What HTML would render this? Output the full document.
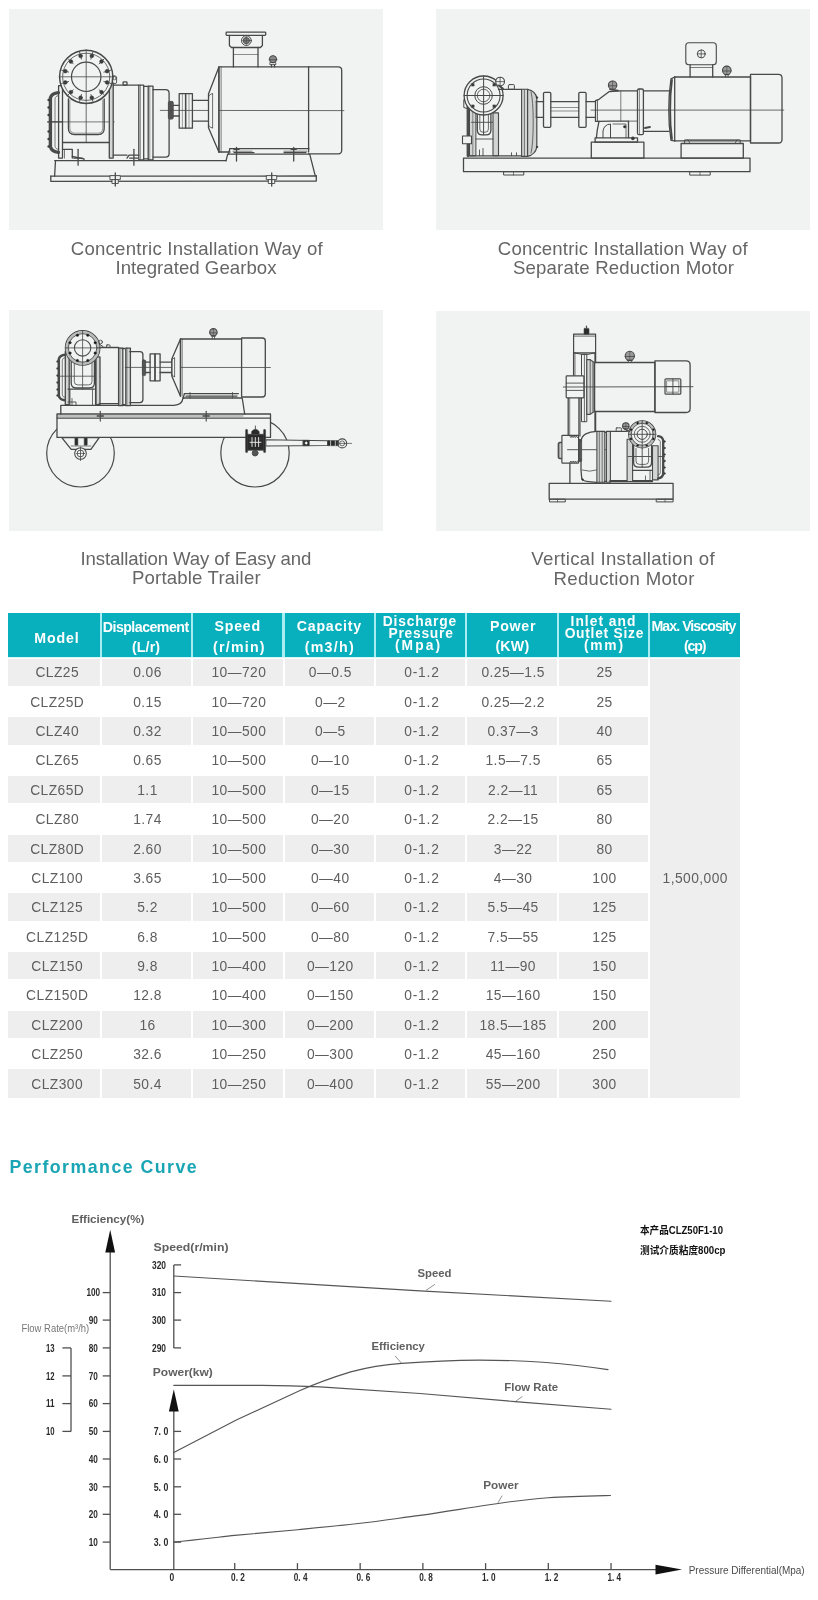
<!DOCTYPE html>
<html lang="en"><head><meta charset="utf-8"><title>Rotary Lobe Pump - Installation &amp; Performance</title>
<style>
html,body{margin:0;padding:0;background:#fff;}
body{width:818px;height:1600px;position:relative;overflow:hidden;font-family:"Liberation Sans","Noto Sans CJK SC",sans-serif;}
.t{position:absolute;white-space:nowrap;line-height:1;margin:0;padding:0;}
.panel{position:absolute;background:#f1f2f2;overflow:hidden;}
.panel svg{position:absolute;left:0;top:0;}
.cell{position:absolute;}
svg text{font-family:"Liberation Sans","Noto Sans CJK SC",sans-serif;}
#pg{position:absolute;left:0;top:0;width:818px;height:1600px;will-change:transform;}
</style></head><body><div id="pg">
<div class="panel" style="left:9px;top:9px;width:374px;height:221px;"><svg width="374" height="221" viewBox="9 9 374 221" fill="none" stroke="#484848" stroke-width="1.3" stroke-linecap="round" stroke-linejoin="round">
<polyline points="54.7,160.6 226.0,160.6"/>
<polyline points="55.5,160.6 54.6,176.2"/>
<polyline points="50.8,176.2 316.3,176.0"/>
<polyline points="50.8,176.2 50.8,181.3 316.3,181.0 316.3,175.6"/>
<polyline points="226.0,160.8 227.7,154.2 309.7,154.2 315.2,175.6"/>
<rect x="110.3" y="175.6" width="10.0" height="4.0" rx="0" fill="#f1f2f2" stroke-width="0.9"/>
<rect x="112.3" y="179.6" width="6.0" height="3.9" rx="0" fill="#f1f2f2" stroke-width="0.9"/>
<polyline points="115.3,173.0 115.3,186.0"/>
<rect x="266.7" y="175.6" width="10.0" height="4.0" rx="0" fill="#f1f2f2" stroke-width="0.9"/>
<rect x="268.7" y="179.6" width="6.0" height="3.9" rx="0" fill="#f1f2f2" stroke-width="0.9"/>
<polyline points="271.7,173.0 271.7,186.0"/>
<path d="M58.4 92.6 C53.5 93 51.2 94.6 50.4 98 L50.4 146.6 C51.2 150 53.5 151.8 58.4 152.4" stroke="#4a4a4a" stroke-width="3.4"/>
<path d="M58.4 95.6 C56 96 55.2 97 55 99 L55 146 C55.2 148 56 149 58.4 149.4" stroke-width="0.7"/>
<circle cx="48.6" cy="100.0" r="1.2" fill="#3c3c3c" stroke="none"/>
<circle cx="48.6" cy="107.5" r="1.2" fill="#3c3c3c" stroke="none"/>
<circle cx="48.6" cy="115.0" r="1.2" fill="#3c3c3c" stroke="none"/>
<circle cx="48.6" cy="131.5" r="1.2" fill="#3c3c3c" stroke="none"/>
<circle cx="48.6" cy="139.0" r="1.2" fill="#3c3c3c" stroke="none"/>
<circle cx="48.6" cy="146.5" r="1.2" fill="#3c3c3c" stroke="none"/>
<rect x="58.6" y="85.7" width="3.9" height="72.4" rx="0"/>
<polyline points="62.5,142.5 109.4,142.5"/>
<polyline points="62.5,121.9 47.8,121.9"/>
<polyline points="47.8,121.9 114.3,121.9" stroke-width="0.7"/>
<path d="M68.4 99 L68.4 128.6 Q68.4 134.6 74.4 134.6 L98.2 134.6 Q104.2 134.6 104.2 128.6 L104.2 99"/>
<path d="M69.8 100 L69.8 128 Q69.8 133.2 75 133.2 L97.6 133.2 Q102.8 133.2 102.8 128 L102.8 100" stroke-width="0.6"/>
<rect x="109.3" y="82.8" width="3.9" height="75.3" rx="0" fill="#d3d4d4"/>
<circle cx="86.2" cy="76.8" r="26.6" fill="#f1f2f2" stroke-width="1.5"/>
<circle cx="86.2" cy="76.8" r="23.6" stroke-width="0.8"/>
<circle cx="86.2" cy="76.8" r="14.7" stroke-width="1.2"/>
<circle cx="107.1" cy="82.4" r="1.9" fill="#333" stroke-width="0.5"/>
<polyline points="103.9,81.5 110.7,83.4" stroke-width="0.9"/>
<circle cx="101.5" cy="92.1" r="1.9" fill="#333" stroke-width="0.5"/>
<polyline points="99.1,89.7 104.2,94.8" stroke-width="0.9"/>
<circle cx="91.8" cy="97.7" r="1.9" fill="#333" stroke-width="0.5"/>
<polyline points="90.9,94.5 92.8,101.3" stroke-width="0.9"/>
<circle cx="80.6" cy="97.7" r="1.9" fill="#333" stroke-width="0.5"/>
<polyline points="81.5,94.5 79.6,101.3" stroke-width="0.9"/>
<circle cx="70.9" cy="92.1" r="1.9" fill="#333" stroke-width="0.5"/>
<polyline points="73.3,89.7 68.2,94.8" stroke-width="0.9"/>
<circle cx="65.3" cy="82.4" r="1.9" fill="#333" stroke-width="0.5"/>
<polyline points="68.5,81.5 61.7,83.4" stroke-width="0.9"/>
<circle cx="65.3" cy="71.2" r="1.9" fill="#333" stroke-width="0.5"/>
<polyline points="68.5,72.1 61.7,70.2" stroke-width="0.9"/>
<circle cx="70.9" cy="61.5" r="1.9" fill="#333" stroke-width="0.5"/>
<polyline points="73.3,63.9 68.2,58.8" stroke-width="0.9"/>
<circle cx="80.6" cy="55.9" r="1.9" fill="#333" stroke-width="0.5"/>
<polyline points="81.5,59.1 79.6,52.3" stroke-width="0.9"/>
<circle cx="91.8" cy="55.9" r="1.9" fill="#333" stroke-width="0.5"/>
<polyline points="90.9,59.1 92.8,52.3" stroke-width="0.9"/>
<circle cx="101.5" cy="61.5" r="1.9" fill="#333" stroke-width="0.5"/>
<polyline points="99.1,63.9 104.2,58.8" stroke-width="0.9"/>
<circle cx="107.1" cy="71.2" r="1.9" fill="#333" stroke-width="0.5"/>
<polyline points="103.9,72.1 110.7,70.2" stroke-width="0.9"/>
<polyline points="59.2,76.8 113.3,76.8" stroke-width="0.8"/>
<polyline points="86.2,49.6 86.2,142.5" stroke-width="0.8"/>
<rect x="112.4" y="76.0" width="4.2" height="7.6" rx="1.5" stroke-width="0.9"/>
<circle cx="114.6" cy="78.2" r="1.6" stroke-width="0.8"/>
<polyline points="62.5,149.3 72.3,149.3 72.3,158.1"/>
<polyline points="64.5,150.0 64.5,158.1" stroke-width="0.7"/>
<polyline points="72.3,156.5 84.0,158.8 84.0,160.1"/>
<polyline points="78.1,149.3 78.1,165.2"/>
<polyline points="73.8,158.1 82.4,158.1"/>
<polyline points="133.9,149.3 133.9,165.2"/>
<polyline points="129.6,158.1 138.2,158.1"/>
<polyline points="127.0,158.1 129.0,155.2 138.8,155.2"/>
<polyline points="113.3,85.2 138.8,85.2"/>
<polyline points="113.3,155.2 127.0,155.2"/>
<rect x="123.1" y="81.8" width="3.9" height="3.4" rx="0.8"/>
<rect x="138.8" y="85.2" width="4.9" height="74.8" rx="0"/>
<polyline points="140.4,85.2 140.4,160.0" stroke-width="0.6"/>
<polyline points="143.7,86.3 148.2,86.3"/>
<polyline points="143.7,158.8 148.2,158.8"/>
<rect x="148.2" y="86.1" width="4.8" height="73.9" rx="0"/>
<polyline points="149.8,86.1 149.8,160.0" stroke-width="0.6"/>
<path d="M153 89.7 L165.5 89.7 Q169.1 89.7 169.1 93.5 L169.1 153.4 Q169.1 157.1 165.5 157.1 L153 157.1"/>
<rect x="168.4" y="101.4" width="4.8" height="17.6" rx="1.2" fill="#555" stroke-width="0.9"/>
<polyline points="170.8,101.4 170.8,119.0" stroke-width="0.6"/>
<polyline points="160.3,110.4 343.9,110.6" stroke-width="0.8"/>
<polyline points="173.2,105.3 179.2,105.3"/>
<polyline points="173.2,116.0 179.2,116.0"/>
<rect x="179.2" y="93.7" width="6.4" height="34.5" rx="0"/>
<rect x="185.6" y="93.7" width="6.8" height="34.5" rx="0"/>
<polyline points="182.4,93.7 182.4,128.2" stroke-width="0.5"/>
<polyline points="189.0,93.7 189.0,128.2" stroke-width="0.5"/>
<polyline points="192.4,100.3 208.5,100.3"/>
<polyline points="192.4,121.2 208.5,121.2"/>
<path d="M218.9 66.9 L208.5 94 L208.5 127.8 L218.9 152 Z" fill="#f1f2f2"/>
<path d="M212.6 93.7 Q208.6 94 208.5 98 L208.5 124 Q208.6 127.6 212.6 127.9" stroke-width="0.8"/>
<polyline points="212.6,93.7 212.6,127.9" stroke-width="0.8"/>
<polyline points="218.9,66.9 308.6,66.9"/>
<polyline points="218.9,66.9 218.9,152.0"/>
<polyline points="221.1,66.9 221.1,152.0" stroke-width="0.7"/>
<polyline points="218.9,152.0 230.0,152.0"/>
<polyline points="308.6,66.9 308.6,152.0"/>
<path d="M308.6 66.9 L338.2 66.9 Q341.7 66.9 341.7 70.4 L341.7 150.3 Q341.7 153.8 338.2 153.8 L308.6 153.8"/>
<polyline points="229.9,148.7 309.0,148.7"/>
<polyline points="229.9,148.7 228.4,154.2"/>
<polyline points="233.0,151.2 252.0,151.2" stroke-width="0.7"/>
<polyline points="284.0,151.2 307.0,151.2" stroke-width="0.7"/>
<polyline points="234.0,152.6 254.0,152.6" stroke-width="1.2"/>
<polyline points="284.0,152.6 306.0,152.6" stroke-width="1.2"/>
<polyline points="236.5,147.4 236.5,161.0"/>
<polyline points="234.0,149.4 239.0,149.4"/>
<polyline points="293.7,147.4 293.7,161.0"/>
<polyline points="291.2,149.4 296.2,149.4"/>
<rect x="226.1" y="32.1" width="39.6" height="3.3" rx="0.8"/>
<polyline points="229.4,35.4 229.4,45.5 231.4,47.5 260.4,47.5 262.4,45.5 262.4,35.4"/>
<polyline points="233.4,47.5 233.4,66.9"/>
<polyline points="258.0,47.5 258.0,66.9"/>
<polyline points="233.4,54.5 258.0,54.5" stroke-width="0.6"/>
<circle cx="246.4" cy="40.6" r="4.9" stroke-width="1.0"/>
<circle cx="246.4" cy="40.6" r="3.2" fill="#777" stroke-width="0.8"/>
<polyline points="242.0,40.6 250.8,40.6" stroke-width="0.6"/>
<polyline points="246.4,36.0 246.4,45.0" stroke-width="0.6"/>
<circle cx="273.0" cy="59.2" r="3.6" fill="#8a8a8a" stroke-width="1.0"/>
<polyline points="269.0,59.8 277.0,59.8" stroke-width="0.8"/>
<rect x="270.2" y="62.6" width="5.6" height="2.0" rx="0" stroke-width="0.8"/>
<polyline points="271.5,64.6 271.5,66.9"/>
<polyline points="274.5,64.6 274.5,66.9"/>
</svg></div>
<div class="panel" style="left:436px;top:9px;width:374px;height:221px;"><svg width="374" height="221" viewBox="436 9 374 221" fill="none" stroke="#484848" stroke-width="1.3" stroke-linecap="round" stroke-linejoin="round">
<rect x="463.5" y="158.2" width="286.5" height="13.5" rx="0"/>
<rect x="504.0" y="171.7" width="19.8" height="3.3" rx="0" stroke-width="1.0"/>
<polyline points="513.5,171.7 513.5,175.0" stroke-width="0.7"/>
<rect x="690.1" y="171.7" width="20.1" height="3.4" rx="0" stroke-width="1.0"/>
<polyline points="700.0,171.7 700.0,175.1" stroke-width="0.7"/>
<path d="M468 106 L468 155.8" stroke="#4c4c4c" stroke-width="2.8"/>
<rect x="469.9" y="109.0" width="6.0" height="46.8" rx="0" fill="#d3d4d4" stroke-width="1.0"/>
<polyline points="472.8,109.0 472.8,155.8" stroke-width="0.6"/>
<rect x="462.5" y="136.0" width="9.0" height="7.7" rx="0" fill="#f1f2f2" stroke-width="1.1"/>
<path d="M477.3 110 L477.3 130 Q477.3 134.9 482.2 134.9 L486 134.9 Q490.9 134.9 490.9 130 L490.9 110"/>
<path d="M479.8 112 L479.8 129 Q479.8 132.2 483 132.2 L485.2 132.2 Q488.4 132.2 488.4 129 L488.4 112" stroke-width="0.8"/>
<polyline points="471.5,122.3 497.4,122.3" stroke-width="0.9"/>
<rect x="493.0" y="112.9" width="5.5" height="42.9" rx="0" fill="#d3d4d4" stroke-width="1.1"/>
<polyline points="468.7,155.8 521.7,155.8"/>
<polyline points="475.9,139.0 493.0,139.0" stroke-width="0.9"/>
<polyline points="479.5,150.0 479.5,155.7" stroke-width="0.9"/>
<polyline points="483.0,148.5 483.0,155.7" stroke-width="0.9"/>
<polyline points="511.5,152.8 511.5,155.7" stroke-width="0.9"/>
<polyline points="516.5,152.8 516.5,155.7" stroke-width="0.9"/>
<circle cx="483.6" cy="95.5" r="19.5" fill="#f1f2f2" stroke-width="1.3"/>
<circle cx="483.6" cy="95.5" r="16.5" stroke-width="1.1"/>
<circle cx="483.6" cy="95.5" r="8.8" stroke-width="1.0"/>
<circle cx="483.6" cy="95.5" r="6.3" stroke-width="0.8"/>
<polyline points="464.1,95.5 503.1,95.5" stroke-width="1.0"/>
<polyline points="483.6,76.0 483.6,134.9" stroke-width="1.0"/>
<rect x="493.0" y="104.9" width="2.6" height="2.6" rx="0" fill="#383838" stroke-width="0.4"/>
<rect x="471.6" y="104.9" width="2.6" height="2.6" rx="0" fill="#383838" stroke-width="0.4"/>
<rect x="471.6" y="83.5" width="2.6" height="2.6" rx="0" fill="#383838" stroke-width="0.4"/>
<rect x="493.0" y="83.5" width="2.6" height="2.6" rx="0" fill="#383838" stroke-width="0.4"/>
<polyline points="463.8,100.0 463.8,107.5 467.0,108.5" stroke-width="1.0"/>
<circle cx="500.1" cy="81.6" r="4.4" fill="#f1f2f2" stroke-width="1.1"/>
<polyline points="496.0,81.6 504.2,81.6" stroke-width="0.8"/>
<polyline points="500.1,77.4 500.1,85.8" stroke-width="0.8"/>
<polyline points="498.5,85.5 503.0,88.4" stroke-width="1.8"/>
<polyline points="498.5,89.3 521.6,89.3"/>
<rect x="508.4" y="84.6" width="6.0" height="4.7" rx="1.0" stroke-width="1.0"/>
<rect x="521.6" y="89.3" width="6.0" height="67.1" rx="0" fill="#d3d4d4" stroke-width="1.1"/>
<polyline points="524.4,89.3 524.4,156.4" stroke-width="0.7"/>
<path d="M527.6 89.3 Q535.5 91 536.8 98 L536.8 147 Q535.5 154.5 527.6 156.4 Z" fill="#d0d1d1" stroke-width="1.2"/>
<path d="M531 92 Q533.2 100 533.2 122 Q533.2 144 531 153" stroke-width="0.8"/>
<circle cx="537.0" cy="97.5" r="0.9" fill="#222" stroke-width="0.3"/>
<circle cx="537.0" cy="147.0" r="0.9" fill="#222" stroke-width="0.3"/>
<polyline points="536.2,101.7 543.5,101.7"/>
<polyline points="536.2,117.3 543.5,117.3"/>
<polyline points="550.8,101.7 578.8,101.7"/>
<polyline points="550.8,117.3 578.8,117.3"/>
<polyline points="550.8,107.5 578.8,107.5" stroke-width="0.6"/>
<polyline points="550.8,111.0 578.8,111.0" stroke-width="0.6"/>
<polyline points="586.1,101.7 595.5,101.7"/>
<polyline points="586.1,117.3 595.5,117.3"/>
<rect x="543.5" y="92.3" width="7.3" height="35.0" rx="1.2"/>
<rect x="578.8" y="92.3" width="7.3" height="35.0" rx="1.2"/>
<polyline points="536.2,101.7 536.2,117.3" stroke-width="0.8"/>
<path d="M595.5 100.7 L595.5 121.4 M595.5 100.7 L599 99.3 L609.3 91.6 L620.8 90.8 L637.5 90.8 M595.5 121.4 L599 121.4"/>
<polyline points="597.5,100.0 597.5,121.4" stroke-width="0.8"/>
<circle cx="612.6" cy="85.2" r="4.2" fill="#9a9a9a" stroke-width="1.1"/>
<polyline points="608.4,85.8 616.8,85.8" stroke-width="0.8"/>
<polyline points="612.6,81.0 612.6,89.4" stroke-width="0.6"/>
<polyline points="610.0,89.4 618.0,90.6" stroke-width="1.6"/>
<polyline points="620.8,90.8 620.8,121.0" stroke-width="0.7"/>
<rect x="637.5" y="89.0" width="5.9" height="45.7" rx="1.5"/>
<polyline points="639.5,89.0 639.5,134.7" stroke-width="0.6"/>
<polyline points="643.4,90.8 669.1,90.8"/>
<polyline points="643.4,131.4 669.1,131.4"/>
<polyline points="645.0,128.0 650.0,127.0" stroke-width="1.8"/>
<path d="M599 121.4 Q597 130 596.4 137.8"/>
<path d="M599 121.4 L610.5 121.1 L628.5 121.1 L628.5 137.8"/>
<path d="M603 137.8 L603 131 Q604 124.5 610.5 124 L610.5 137.8" stroke-width="1.0"/>
<polyline points="613.0,124.0 626.0,124.0 626.0,137.8" stroke-width="0.8"/>
<circle cx="624.7" cy="126.8" r="1.3" fill="#222" stroke-width="0.5"/>
<circle cx="632.9" cy="138.3" r="1.6" fill="#222" stroke-width="0.5"/>
<polyline points="628.5,121.1 637.5,121.1" stroke-width="0.8"/>
<rect x="595.1" y="137.8" width="42.4" height="4.4" rx="0"/>
<rect x="591.3" y="142.2" width="52.6" height="16.0" rx="0"/>
<path d="M674.7 77 L671 78.8 Q668.6 95 668.8 110 Q668.6 125 671 140.4 L674.7 140.9" stroke-width="1.3"/>
<path d="M672 80 Q670 95 670.2 110 Q670 125 672 139" stroke-width="1.8"/>
<polyline points="674.7,77.0 750.5,77.0"/>
<polyline points="674.7,77.0 674.7,140.9"/>
<polyline points="674.7,140.9 750.5,140.9"/>
<polyline points="750.5,77.0 750.5,140.9"/>
<path d="M750.5 74.4 L778.5 74.4 Q782 74.4 782 78 L782 139.5 Q782 143 778.5 143 L750.5 143 Z"/>
<polyline points="591.0,110.1 783.8,110.1" stroke-width="0.8"/>
<rect x="685.0" y="139.9" width="55.2" height="3.6" rx="0" stroke-width="1.0"/>
<polyline points="688.0,139.9 690.0,143.5" stroke-width="0.8"/>
<polyline points="737.0,139.9 735.0,143.5" stroke-width="0.8"/>
<rect x="681.1" y="143.5" width="62.2" height="14.7" rx="0"/>
<rect x="685.8" y="42.8" width="30.5" height="21.9" rx="3" stroke-width="1.1"/>
<circle cx="701.2" cy="53.9" r="3.9" stroke-width="1.0"/>
<polyline points="697.3,53.9 705.1,53.9" stroke-width="0.8"/>
<polyline points="701.2,50.0 701.2,57.8" stroke-width="0.8"/>
<polyline points="690.1,64.7 690.1,77.0"/>
<polyline points="712.7,64.7 712.7,77.0"/>
<polyline points="690.1,67.5 712.7,67.5" stroke-width="0.7"/>
<circle cx="726.8" cy="70.4" r="4.3" fill="#9a9a9a" stroke-width="1.1"/>
<polyline points="722.5,71.0 731.1,71.0" stroke-width="0.8"/>
<polyline points="726.8,66.1 726.8,74.7" stroke-width="0.6"/>
<polyline points="724.5,74.6 729.1,74.6" stroke-width="1.0"/>
<polyline points="725.5,74.6 725.5,77.0" stroke-width="0.8"/>
<polyline points="728.1,74.6 728.1,77.0" stroke-width="0.8"/>
</svg></div>
<div class="panel" style="left:9px;top:309.5px;width:374px;height:221px;"><svg width="374" height="221" viewBox="9 309.5 374 221" fill="none" stroke="#484848" stroke-width="1.3" stroke-linecap="round" stroke-linejoin="round">
<circle cx="80.5" cy="452.7" r="33.8" stroke-width="1.2"/>
<circle cx="255.0" cy="452.3" r="34.2" stroke-width="1.2"/>
<polygon points="57.0,413.5 270.5,413.5 270.5,436.9 57.0,436.9" fill="#f1f2f2"/>
<polyline points="57.0,417.6 270.5,417.6"/>
<polyline points="57.0,415.5 243.0,415.5" stroke-width="0.6"/>
<polyline points="100.3,410.8 100.3,420.6" stroke-width="1.1"/>
<polyline points="97.3,415.5 103.3,415.5" stroke-width="1.6"/>
<polyline points="206.2,410.8 206.2,420.6" stroke-width="1.1"/>
<polyline points="203.2,415.5 209.2,415.5" stroke-width="1.6"/>
<polygon points="61.8,437.2 71.2,448.8 90.9,448.8 99.2,437.2" fill="#f1f2f2"/>
<rect x="74.9" y="437.4" width="3.0" height="7.3" rx="0.5" fill="#2a2a2a" stroke-width="0.6"/>
<rect x="84.2" y="437.4" width="3.0" height="7.3" rx="0.5" fill="#2a2a2a" stroke-width="0.6"/>
<polyline points="71.2,445.5 90.9,445.5" stroke-width="0.7"/>
<circle cx="80.5" cy="453.0" r="5.8" fill="#f1f2f2" stroke-width="1.1"/>
<circle cx="80.5" cy="453.0" r="3.4" stroke-width="0.9"/>
<polyline points="80.5,446.5 80.5,460.0" stroke-width="0.8"/>
<polyline points="76.5,453.0 84.5,453.0" stroke-width="0.7"/>
<path d="M60.8 413.5 L60.8 404.8 L174 404.8 Q182 404.6 183 397.7"/>
<path d="M183 397.5 L242.2 397.5 L244.7 413.5"/>
<path d="M65.3 354.3 Q60 354.6 58.8 358.5 L58.8 395.5 Q60 399.4 65.3 399.8" stroke-width="2.5"/>
<path d="M65.3 357 Q62.6 357.3 62.3 359.5 L62.3 394.5 Q62.6 396.8 65.3 397" stroke-width="0.7"/>
<circle cx="57.4" cy="361.0" r="0.9" fill="#3a3a3a" stroke-width="0.3"/>
<circle cx="57.4" cy="368.0" r="0.9" fill="#3a3a3a" stroke-width="0.3"/>
<circle cx="57.4" cy="375.0" r="0.9" fill="#3a3a3a" stroke-width="0.3"/>
<circle cx="57.4" cy="382.0" r="0.9" fill="#3a3a3a" stroke-width="0.3"/>
<circle cx="57.4" cy="389.0" r="0.9" fill="#3a3a3a" stroke-width="0.3"/>
<circle cx="57.4" cy="395.0" r="0.9" fill="#3a3a3a" stroke-width="0.3"/>
<rect x="65.3" y="351.0" width="3.9" height="53.2" rx="0" fill="#d3d4d4"/>
<polyline points="57.7,375.7 100.3,375.7" stroke-width="0.8"/>
<path d="M71.2 361 L71.2 382.5 Q71.2 387.5 76.2 387.5 L89.4 387.5 Q94.4 387.5 94.4 382.5 L94.4 361"/>
<path d="M74.3 362 L74.3 381 Q74.3 384.4 77.7 384.4 L88.6 384.4 Q92 384.4 92 381 L92 362" stroke-width="0.8"/>
<polyline points="68.0,388.6 94.4,388.6"/>
<polyline points="70.0,388.6 70.0,404.2" stroke-width="0.8"/>
<polyline points="92.5,388.6 92.5,404.2" stroke-width="0.8"/>
<rect x="95.6" y="356.4" width="4.4" height="47.8" rx="0" fill="#d3d4d4"/>
<polyline points="96.4,356.4 96.4,404.2" stroke-width="0.6"/>
<polyline points="68.0,401.5 76.0,401.5 76.0,404.5" stroke-width="0.9"/>
<polyline points="72.0,398.0 72.0,404.5" stroke-width="0.8"/>
<circle cx="82.6" cy="347.4" r="17.2" fill="#f1f2f2" stroke-width="1.3"/>
<circle cx="82.6" cy="347.4" r="15.7" stroke="#b9baba" stroke-width="2.6"/>
<circle cx="82.6" cy="347.4" r="14.3" stroke-width="0.9"/>
<circle cx="82.6" cy="347.4" r="8.2" stroke-width="1.1"/>
<circle cx="95.2" cy="352.6" r="1.3" fill="#111" stroke-width="0.4"/>
<circle cx="87.8" cy="360.0" r="1.3" fill="#111" stroke-width="0.4"/>
<circle cx="77.4" cy="360.0" r="1.3" fill="#111" stroke-width="0.4"/>
<circle cx="70.0" cy="352.6" r="1.3" fill="#111" stroke-width="0.4"/>
<circle cx="70.0" cy="342.2" r="1.3" fill="#111" stroke-width="0.4"/>
<circle cx="77.4" cy="334.8" r="1.3" fill="#111" stroke-width="0.4"/>
<circle cx="87.8" cy="334.8" r="1.3" fill="#111" stroke-width="0.4"/>
<circle cx="95.2" cy="342.2" r="1.3" fill="#111" stroke-width="0.4"/>
<polyline points="65.4,347.4 99.8,347.4" stroke-width="0.8"/>
<polyline points="82.6,330.2 82.6,388.6" stroke-width="0.8"/>
<circle cx="100.6" cy="341.5" r="1.8" stroke-width="0.9"/>
<polyline points="99.0,343.5 103.0,346.0" stroke-width="1.0"/>
<polyline points="99.2,347.0 118.6,347.0"/>
<polyline points="99.2,403.1 118.6,403.1"/>
<rect x="106.5" y="344.4" width="3.5" height="2.6" rx="0.6" stroke-width="0.9"/>
<rect x="118.6" y="347.6" width="4.2" height="57.6" rx="0" fill="#d3d4d4"/>
<polyline points="120.0,347.0 120.0,405.2" stroke-width="0.5"/>
<polyline points="122.1,348.0 125.2,348.0"/>
<polyline points="122.1,404.2 125.2,404.2"/>
<rect x="125.8" y="347.6" width="4.6" height="57.6" rx="0" fill="#d3d4d4"/>
<polyline points="127.0,347.0 127.0,405.2" stroke-width="0.5"/>
<path d="M129.8 351.2 L139.9 351.2 Q142.9 351.2 142.9 354.2 L142.9 399.1 Q142.9 402.1 139.9 402.1 L129.8 402.1"/>
<rect x="142.4" y="359.5" width="3.2" height="15.6" rx="1" fill="#555" stroke-width="0.8"/>
<polyline points="125.2,366.9 270.4,367.0" stroke-width="0.8"/>
<polyline points="145.6,361.6 150.1,361.6"/>
<polyline points="145.6,372.0 150.1,372.0"/>
<rect x="150.1" y="353.3" width="4.9" height="27.0" rx="0"/>
<rect x="155.0" y="353.3" width="5.1" height="27.0" rx="0"/>
<polyline points="160.1,361.6 172.0,361.6"/>
<polyline points="160.1,372.0 172.0,372.0"/>
<polygon points="180.5,338.5 171.8,358.5 171.8,375.6 180.5,395.7" fill="#f1f2f2"/>
<path d="M174.6 357.4 Q171.9 357.8 171.8 360.5 L171.8 373.6 Q171.9 376 174.6 376.2" stroke-width="0.8"/>
<polyline points="174.6,357.4 174.6,376.2" stroke-width="0.8"/>
<polyline points="180.5,338.5 241.6,338.5"/>
<polyline points="180.5,338.5 180.5,395.7"/>
<polyline points="182.3,338.5 182.3,395.7" stroke-width="0.6"/>
<polyline points="241.6,338.5 241.6,395.7"/>
<path d="M241.6 337.5 L262.3 337.5 Q265.3 337.5 265.3 340.5 L265.3 393.5 Q265.3 396.5 262.3 396.5 L241.6 396.5"/>
<polyline points="184.4,393.2 238.3,393.2"/>
<polyline points="184.4,393.2 183.2,397.5"/>
<polyline points="186.0,395.6 237.0,395.6" stroke-width="1.4"/>
<polyline points="190.0,392.0 190.0,397.5" stroke-width="0.8"/>
<polyline points="232.5,392.0 232.5,397.5" stroke-width="0.8"/>
<circle cx="213.4" cy="331.8" r="3.7" fill="#9a9a9a" stroke-width="1.1"/>
<polyline points="209.7,332.4 217.1,332.4" stroke-width="0.8"/>
<polyline points="213.4,328.1 213.4,335.5" stroke-width="0.6"/>
<polyline points="211.3,335.5 215.5,335.5" stroke-width="1.0"/>
<polyline points="212.3,335.5 212.3,338.5" stroke-width="0.8"/>
<polyline points="214.5,335.5 214.5,338.5" stroke-width="0.8"/>
<rect x="246.3" y="433.8" width="18.5" height="15.9" rx="1" fill="#2a2a2a" stroke-width="0.8"/>
<rect x="245.6" y="429.0" width="2.0" height="23.0" rx="0.6" fill="#2a2a2a" stroke-width="0.5"/>
<rect x="263.6" y="429.0" width="2.0" height="23.0" rx="0.6" fill="#2a2a2a" stroke-width="0.5"/>
<path d="M251.6 433.8 L251.6 431 Q255.4 426.6 259.2 431 L259.2 433.8 Z" fill="#2a2a2a" stroke-width="0.6"/>
<polyline points="255.4,425.5 255.4,429.0" stroke-width="0.9"/>
<circle cx="255.1" cy="452.6" r="2.9" fill="#555" stroke-width="0.9"/>
<polyline points="249.0,438.5 262.0,438.5" stroke-width="0.7"/>
<g stroke="#f1f2f2" stroke-width="0.9"><line x1="252" y1="437" x2="252" y2="446"/><line x1="255.3" y1="437" x2="255.3" y2="446"/><line x1="258.6" y1="437" x2="258.6" y2="446"/><line x1="250" y1="441.8" x2="261" y2="441.8"/></g>
<polygon points="265.8,439.3 327.7,440.2 327.7,445.0 265.8,445.5" stroke-width="1.1" fill="#f1f2f2"/>
<rect x="303.1" y="439.8" width="6.2" height="5.4" rx="0" fill="#2a2a2a" stroke-width="0.6"/>
<polygon points="306.2,440.8 307.9,442.5 306.2,444.2 304.5,442.5" fill="#f1f2f2" stroke="none"/>
<rect x="327.7" y="440.1" width="10.9" height="5.1" rx="0.6" fill="#2a2a2a" stroke-width="0.6"/>
<g stroke="#f1f2f2" stroke-width="0.7"><line x1="330.6" y1="440.5" x2="330.6" y2="445"/><line x1="335.3" y1="440.5" x2="335.3" y2="445"/></g>
<circle cx="342.2" cy="442.9" r="4.5" stroke-width="1.1"/>
<circle cx="342.2" cy="442.9" r="2.5" stroke-width="0.8"/>
<polyline points="338.0,442.9 351.6,442.9" stroke-width="0.7"/>
</svg></div>
<div class="panel" style="left:436px;top:310.5px;width:374px;height:220px;"><svg width="374" height="220" viewBox="436 310.5 374 220" fill="none" stroke="#484848" stroke-width="1.3" stroke-linecap="round" stroke-linejoin="round">
<rect x="549.2" y="482.9" width="123.9" height="15.8" rx="0"/>
<rect x="549.9" y="498.7" width="15.4" height="2.7" rx="0" stroke-width="1.0"/>
<rect x="656.6" y="498.7" width="16.5" height="2.7" rx="0" stroke-width="1.0"/>
<polyline points="557.5,498.7 557.5,501.4" stroke-width="0.7"/>
<polyline points="665.0,498.7 665.0,501.4" stroke-width="0.7"/>
<rect x="573.6" y="333.7" width="22.0" height="18.6" rx="0" stroke-width="1.2"/>
<polyline points="573.6,335.6 595.6,335.6" stroke-width="0.8"/>
<path d="M573.6 352.3 L582 353.8 L588 353.8 L595.6 352.3" stroke-width="1.0"/>
<polyline points="573.6,352.3 573.6,375.3"/>
<polyline points="575.0,352.3 575.0,375.3" stroke-width="0.7"/>
<polyline points="595.6,352.3 595.6,362.0"/>
<polyline points="594.6,352.3 594.6,362.0" stroke-width="0.7"/>
<rect x="584.0" y="327.9" width="5.0" height="5.8" rx="0.5" fill="#2a2a2a" stroke-width="0.6"/>
<polyline points="586.5,325.6 586.5,328.0" stroke-width="1.2"/>
<rect x="581.9" y="353.8" width="4.9" height="67.4" rx="0" stroke-width="1.0"/>
<polyline points="584.4,353.8 584.4,421.2" stroke-width="0.8"/>
<polygon points="586.8,359.1 590.2,359.1 593.1,361.3 593.1,411.8 590.2,413.9 586.8,413.9" stroke-width="1.1" fill="#d3d4d4"/>
<polyline points="590.2,359.1 590.2,413.9" stroke-width="0.8"/>
<polyline points="593.1,361.3 594.6,362.0" stroke-width="0.8"/>
<polyline points="593.1,411.8 594.6,411.0" stroke-width="0.8"/>
<polyline points="568.2,397.3 568.2,435.4"/>
<polyline points="569.7,397.3 569.7,435.4" stroke-width="0.7"/>
<polyline points="578.5,397.3 578.5,435.4" stroke-width="0.7"/>
<polyline points="579.9,397.3 579.9,435.4"/>
<polyline points="595.6,411.0 595.6,430.7"/>
<polyline points="594.6,411.0 594.6,430.7" stroke-width="0.7"/>
<polyline points="569.9,462.7 569.9,482.9"/>
<rect x="566.2" y="375.3" width="17.7" height="22.0" rx="0.8" fill="#f1f2f2" stroke-width="1.2"/>
<polyline points="566.2,382.6 583.9,382.6" stroke-width="0.9"/>
<polyline points="566.2,389.9 583.9,389.9" stroke-width="0.9"/>
<rect x="594.6" y="362.0" width="60.3" height="49.0" rx="0"/>
<path d="M654.9 360.3 L686.1 360.3 Q690.1 360.3 690.1 364.3 L690.1 408 Q690.1 412 686.1 412 L654.9 412 Z"/>
<rect x="665.0" y="378.3" width="15.8" height="15.4" rx="1" stroke-width="1.2"/>
<polyline points="672.9,378.3 672.9,393.7" stroke-width="0.9"/>
<polyline points="665.0,386.0 680.8,386.0" stroke-width="0.9"/>
<rect x="667.0" y="380.3" width="11.8" height="11.4" rx="0" stroke-width="0.6"/>
<polyline points="563.3,386.5 693.0,386.2" stroke-width="0.9"/>
<circle cx="629.8" cy="355.4" r="4.6" fill="#9a9a9a" stroke-width="1.1"/>
<polyline points="625.2,356.0 634.4,356.0" stroke-width="0.8"/>
<polyline points="629.8,350.8 629.8,360.0" stroke-width="0.6"/>
<polyline points="627.2,359.8 632.4,359.8" stroke-width="1.0"/>
<polyline points="628.3,359.8 628.3,362.0" stroke-width="0.8"/>
<polyline points="631.3,359.8 631.3,362.0" stroke-width="0.8"/>
<path d="M561.9 442 L560 442 Q558.3 442 558.3 444 L558.3 456 Q558.3 458 560 458 L561.9 458"/>
<polyline points="559.8,443.0 559.8,457.0" stroke-width="0.7"/>
<rect x="561.9" y="434.9" width="16.7" height="27.8" rx="0.6" fill="#f1f2f2" stroke-width="1.2"/>
<path d="M569.8 435.4 l1.1 1.7 l1.1 -1.7 l1.1 1.7 l1.1 -1.7 l1.1 1.7 l1.1 -1.7 l1.1 1.7" stroke-width="0.9"/>
<path d="M569.8 462.2 l1.1 -1.7 l1.1 1.7 l1.1 -1.7 l1.1 1.7 l1.1 -1.7 l1.1 1.7 l1.1 -1.7" stroke-width="0.9"/>
<polyline points="567.5,449.2 605.6,449.2" stroke-width="0.9"/>
<rect x="578.8" y="439.0" width="2.8" height="22.0" rx="0.8" fill="#555" stroke-width="0.8"/>
<path d="M581 441 Q581.5 435.5 585.8 433.3 Q590 431.4 596.9 430.9"/>
<path d="M581 459 Q580.6 470 581.8 478.6 Q583 481.6 596.9 481.8"/>
<path d="M582 469.5 Q590 472 596.5 469.5" stroke-width="0.8"/>
<circle cx="582.6" cy="479.0" r="0.9" fill="#2a2a2a" stroke-width="0.4"/>
<rect x="596.9" y="430.9" width="7.9" height="50.9" rx="0" fill="#d3d4d4" stroke-width="1.1"/>
<polyline points="599.3,430.9 599.3,481.8" stroke-width="0.7"/>
<polyline points="602.2,430.9 602.2,481.8" stroke-width="0.7"/>
<polyline points="604.8,431.8 606.4,431.8"/>
<polyline points="604.8,481.0 606.4,481.0"/>
<rect x="606.4" y="430.9" width="4.0" height="50.9" rx="0" fill="#d3d4d4" stroke-width="1.1"/>
<polyline points="610.4,430.9 627.1,430.9"/>
<rect x="616.2" y="427.4" width="5.2" height="3.5" rx="0.6" stroke-width="0.9"/>
<path d="M610.4 480.6 L652 480.6" stroke="#444" stroke-width="2.4"/>
<rect x="627.1" y="438.8" width="5.5" height="42.2" rx="0" fill="#d3d4d4" stroke-width="1.1"/>
<path d="M633.6 445 L633.6 461.7 Q633.6 466.7 638.6 466.7 L646.6 466.7 Q651.6 466.7 651.6 461.7 L651.6 445"/>
<path d="M636 448 L636 460.5 Q636 463.9 639.4 463.9 L645.2 463.9 Q648.6 463.9 648.6 460.5 L648.6 448" stroke-width="0.8"/>
<polyline points="632.6,469.8 652.5,469.8"/>
<polyline points="627.9,456.0 664.4,456.0" stroke-width="0.9"/>
<polyline points="650.0,469.8 650.0,480.0" stroke-width="0.8"/>
<polyline points="645.5,475.5 645.5,480.0" stroke-width="0.8"/>
<rect x="652.5" y="445.2" width="5.6" height="34.2" rx="0" fill="#d3d4d4" stroke-width="1.1"/>
<path d="M658.1 435.7 Q662.5 436.2 663.2 440 L663.2 473.5 Q662.5 477.3 658.1 477.8" stroke-width="2.3"/>
<path d="M658.1 439 Q660 439.3 660.3 441 L660.3 472.5 Q660 474.2 658.1 474.5" stroke-width="0.7"/>
<circle cx="664.6" cy="441.0" r="0.9" fill="#3a3a3a" stroke-width="0.3"/>
<circle cx="664.6" cy="447.5" r="0.9" fill="#3a3a3a" stroke-width="0.3"/>
<circle cx="664.6" cy="454.0" r="0.9" fill="#3a3a3a" stroke-width="0.3"/>
<circle cx="664.6" cy="460.5" r="0.9" fill="#3a3a3a" stroke-width="0.3"/>
<circle cx="664.6" cy="467.0" r="0.9" fill="#3a3a3a" stroke-width="0.3"/>
<circle cx="664.6" cy="473.0" r="0.9" fill="#3a3a3a" stroke-width="0.3"/>
<circle cx="642.2" cy="433.8" r="13.5" fill="#f1f2f2" stroke-width="1.2"/>
<circle cx="642.2" cy="433.8" r="12.2" stroke="#b9baba" stroke-width="2.2"/>
<circle cx="642.2" cy="433.8" r="11.0" stroke-width="0.9"/>
<circle cx="642.2" cy="433.8" r="8.0" stroke-width="0.8"/>
<circle cx="642.2" cy="433.8" r="5.1" stroke-width="1.0"/>
<polyline points="628.7,433.8 655.7,433.8" stroke-width="0.9"/>
<polyline points="642.2,420.3 642.2,466.7" stroke-width="0.9"/>
<circle cx="653.4" cy="438.4" r="1.1" fill="#111" stroke-width="0.3"/>
<circle cx="646.8" cy="445.0" r="1.1" fill="#111" stroke-width="0.3"/>
<circle cx="637.6" cy="445.0" r="1.1" fill="#111" stroke-width="0.3"/>
<circle cx="631.0" cy="438.4" r="1.1" fill="#111" stroke-width="0.3"/>
<circle cx="631.0" cy="429.2" r="1.1" fill="#111" stroke-width="0.3"/>
<circle cx="637.6" cy="422.6" r="1.1" fill="#111" stroke-width="0.3"/>
<circle cx="646.8" cy="422.6" r="1.1" fill="#111" stroke-width="0.3"/>
<circle cx="653.4" cy="429.2" r="1.1" fill="#111" stroke-width="0.3"/>
<circle cx="625.8" cy="425.4" r="3.2" fill="#9a9a9a" stroke-width="1.1"/>
<polyline points="622.6,426.0 629.0,426.0" stroke-width="0.8"/>
<polyline points="625.8,422.2 625.8,428.6" stroke-width="0.6"/>
<polyline points="624.5,428.4 629.5,431.2" stroke-width="1.4"/>
</svg></div>
<div class="t " style="left:70.80px;top:239.66px;font-size:18.6px;letter-spacing:0.229px;color:#666;">Concentric Installation Way of</div>
<div class="t " style="left:115.50px;top:258.86px;font-size:18.6px;letter-spacing:0.043px;color:#666;">Integrated Gearbox</div>
<div class="t " style="left:497.80px;top:239.76px;font-size:18.6px;letter-spacing:0.160px;color:#666;">Concentric Installation Way of</div>
<div class="t " style="left:513.00px;top:259.26px;font-size:18.6px;letter-spacing:0.168px;color:#666;">Separate Reduction Motor</div>
<div class="t " style="left:80.50px;top:549.96px;font-size:18.6px;letter-spacing:-0.111px;color:#666;">Installation Way of Easy and</div>
<div class="t " style="left:131.95px;top:569.46px;font-size:18.6px;letter-spacing:0.171px;color:#666;">Portable Trailer</div>
<div class="t " style="left:531.30px;top:550.16px;font-size:18.6px;letter-spacing:0.332px;color:#666;">Vertical Installation of</div>
<div class="t " style="left:553.50px;top:569.66px;font-size:18.6px;letter-spacing:0.324px;color:#666;">Reduction Motor</div>
<div class="cell" style="left:8.1px;top:613px;width:732.3px;height:43.5px;background:#08afbc;"></div>
<div class="cell" style="left:8.1px;top:658.50px;width:641.0px;height:27.60px;background:#eeeeee;"></div>
<div class="cell" style="left:8.1px;top:717.18px;width:641.0px;height:27.60px;background:#eeeeee;"></div>
<div class="cell" style="left:8.1px;top:775.86px;width:641.0px;height:27.60px;background:#eeeeee;"></div>
<div class="cell" style="left:8.1px;top:834.54px;width:641.0px;height:27.60px;background:#eeeeee;"></div>
<div class="cell" style="left:8.1px;top:893.22px;width:641.0px;height:27.60px;background:#eeeeee;"></div>
<div class="cell" style="left:8.1px;top:951.90px;width:641.0px;height:27.60px;background:#eeeeee;"></div>
<div class="cell" style="left:8.1px;top:1010.58px;width:641.0px;height:27.60px;background:#eeeeee;"></div>
<div class="cell" style="left:8.1px;top:1069.26px;width:641.0px;height:28.74px;background:#eeeeee;"></div>
<div class="cell" style="left:649.1000000000001px;top:658.5px;width:91.3px;height:439.50px;background:#eeeeee;"></div>
<div class="cell" style="left:99.6px;top:613px;width:2.2px;height:44.5px;background:#a8edf2;"></div><div class="cell" style="left:99.7px;top:657.5px;width:2px;height:440.5px;background:#fff;"></div>
<div class="cell" style="left:191.0px;top:613px;width:2.2px;height:44.5px;background:#a8edf2;"></div><div class="cell" style="left:191.1px;top:657.5px;width:2px;height:440.5px;background:#fff;"></div>
<div class="cell" style="left:282.4px;top:613px;width:2.2px;height:44.5px;background:#a8edf2;"></div><div class="cell" style="left:282.5px;top:657.5px;width:2px;height:440.5px;background:#fff;"></div>
<div class="cell" style="left:373.8px;top:613px;width:2.2px;height:44.5px;background:#a8edf2;"></div><div class="cell" style="left:373.9px;top:657.5px;width:2px;height:440.5px;background:#fff;"></div>
<div class="cell" style="left:465.2px;top:613px;width:2.2px;height:44.5px;background:#a8edf2;"></div><div class="cell" style="left:465.3px;top:657.5px;width:2px;height:440.5px;background:#fff;"></div>
<div class="cell" style="left:556.6px;top:613px;width:2.2px;height:44.5px;background:#a8edf2;"></div><div class="cell" style="left:556.7px;top:657.5px;width:2px;height:440.5px;background:#fff;"></div>
<div class="cell" style="left:648.0px;top:613px;width:2.2px;height:44.5px;background:#a8edf2;"></div><div class="cell" style="left:648.1px;top:657.5px;width:2px;height:440.5px;background:#fff;"></div>
<div class="cell" style="left:8.1px;top:656.5px;width:732.3px;height:1.2px;background:#d9f6f8;"></div>
<div class="t " style="left:35.39px;top:666.32px;font-size:13.8px;letter-spacing:0.450px;color:#5e5e5e;">CLZ25</div><div class="t " style="left:133.20px;top:666.32px;font-size:13.8px;letter-spacing:0.450px;color:#5e5e5e;">0.06</div><div class="t " style="left:211.49px;top:666.32px;font-size:13.8px;letter-spacing:0.450px;color:#5e5e5e;">10—720</div><div class="t " style="left:308.87px;top:666.32px;font-size:13.8px;letter-spacing:0.450px;color:#5e5e5e;">0—0.5</div><div class="t " style="left:404.17px;top:666.32px;font-size:13.8px;letter-spacing:0.800px;color:#5e5e5e;">0-1.2</div><div class="t " style="left:481.40px;top:666.32px;font-size:13.8px;letter-spacing:0.450px;color:#5e5e5e;">0.25—1.5</div><div class="t " style="left:596.40px;top:666.32px;font-size:13.8px;letter-spacing:0.450px;color:#5e5e5e;">25</div>
<div class="t " style="left:30.18px;top:695.69px;font-size:13.8px;letter-spacing:0.450px;color:#5e5e5e;">CLZ25D</div><div class="t " style="left:133.20px;top:695.69px;font-size:13.8px;letter-spacing:0.450px;color:#5e5e5e;">0.15</div><div class="t " style="left:211.49px;top:695.69px;font-size:13.8px;letter-spacing:0.450px;color:#5e5e5e;">10—720</div><div class="t " style="left:315.07px;top:695.69px;font-size:13.8px;letter-spacing:0.450px;color:#5e5e5e;">0—2</div><div class="t " style="left:404.17px;top:695.69px;font-size:13.8px;letter-spacing:0.800px;color:#5e5e5e;">0-1.2</div><div class="t " style="left:481.40px;top:695.69px;font-size:13.8px;letter-spacing:0.450px;color:#5e5e5e;">0.25—2.2</div><div class="t " style="left:596.40px;top:695.69px;font-size:13.8px;letter-spacing:0.450px;color:#5e5e5e;">25</div>
<div class="t " style="left:35.39px;top:725.07px;font-size:13.8px;letter-spacing:0.450px;color:#5e5e5e;">CLZ40</div><div class="t " style="left:133.20px;top:725.07px;font-size:13.8px;letter-spacing:0.450px;color:#5e5e5e;">0.32</div><div class="t " style="left:211.49px;top:725.07px;font-size:13.8px;letter-spacing:0.450px;color:#5e5e5e;">10—500</div><div class="t " style="left:315.07px;top:725.07px;font-size:13.8px;letter-spacing:0.450px;color:#5e5e5e;">0—5</div><div class="t " style="left:404.17px;top:725.07px;font-size:13.8px;letter-spacing:0.800px;color:#5e5e5e;">0-1.2</div><div class="t " style="left:487.61px;top:725.07px;font-size:13.8px;letter-spacing:0.450px;color:#5e5e5e;">0.37—3</div><div class="t " style="left:596.40px;top:725.07px;font-size:13.8px;letter-spacing:0.450px;color:#5e5e5e;">40</div>
<div class="t " style="left:35.39px;top:754.44px;font-size:13.8px;letter-spacing:0.450px;color:#5e5e5e;">CLZ65</div><div class="t " style="left:133.20px;top:754.44px;font-size:13.8px;letter-spacing:0.450px;color:#5e5e5e;">0.65</div><div class="t " style="left:211.49px;top:754.44px;font-size:13.8px;letter-spacing:0.450px;color:#5e5e5e;">10—500</div><div class="t " style="left:311.01px;top:754.44px;font-size:13.8px;letter-spacing:0.450px;color:#5e5e5e;">0—10</div><div class="t " style="left:404.17px;top:754.44px;font-size:13.8px;letter-spacing:0.800px;color:#5e5e5e;">0-1.2</div><div class="t " style="left:485.47px;top:754.44px;font-size:13.8px;letter-spacing:0.450px;color:#5e5e5e;">1.5—7.5</div><div class="t " style="left:596.40px;top:754.44px;font-size:13.8px;letter-spacing:0.450px;color:#5e5e5e;">65</div>
<div class="t " style="left:30.18px;top:783.82px;font-size:13.8px;letter-spacing:0.450px;color:#5e5e5e;">CLZ65D</div><div class="t " style="left:137.26px;top:783.82px;font-size:13.8px;letter-spacing:0.450px;color:#5e5e5e;">1.1</div><div class="t " style="left:211.49px;top:783.82px;font-size:13.8px;letter-spacing:0.450px;color:#5e5e5e;">10—500</div><div class="t " style="left:311.01px;top:783.82px;font-size:13.8px;letter-spacing:0.450px;color:#5e5e5e;">0—15</div><div class="t " style="left:404.17px;top:783.82px;font-size:13.8px;letter-spacing:0.800px;color:#5e5e5e;">0-1.2</div><div class="t " style="left:488.12px;top:783.82px;font-size:13.8px;letter-spacing:0.450px;color:#5e5e5e;">2.2—11</div><div class="t " style="left:596.40px;top:783.82px;font-size:13.8px;letter-spacing:0.450px;color:#5e5e5e;">65</div>
<div class="t " style="left:35.39px;top:813.19px;font-size:13.8px;letter-spacing:0.450px;color:#5e5e5e;">CLZ80</div><div class="t " style="left:133.20px;top:813.19px;font-size:13.8px;letter-spacing:0.450px;color:#5e5e5e;">1.74</div><div class="t " style="left:211.49px;top:813.19px;font-size:13.8px;letter-spacing:0.450px;color:#5e5e5e;">10—500</div><div class="t " style="left:311.01px;top:813.19px;font-size:13.8px;letter-spacing:0.450px;color:#5e5e5e;">0—20</div><div class="t " style="left:404.17px;top:813.19px;font-size:13.8px;letter-spacing:0.800px;color:#5e5e5e;">0-1.2</div><div class="t " style="left:487.61px;top:813.19px;font-size:13.8px;letter-spacing:0.450px;color:#5e5e5e;">2.2—15</div><div class="t " style="left:596.40px;top:813.19px;font-size:13.8px;letter-spacing:0.450px;color:#5e5e5e;">80</div>
<div class="t " style="left:30.18px;top:842.57px;font-size:13.8px;letter-spacing:0.450px;color:#5e5e5e;">CLZ80D</div><div class="t " style="left:133.20px;top:842.57px;font-size:13.8px;letter-spacing:0.450px;color:#5e5e5e;">2.60</div><div class="t " style="left:211.49px;top:842.57px;font-size:13.8px;letter-spacing:0.450px;color:#5e5e5e;">10—500</div><div class="t " style="left:311.01px;top:842.57px;font-size:13.8px;letter-spacing:0.450px;color:#5e5e5e;">0—30</div><div class="t " style="left:404.17px;top:842.57px;font-size:13.8px;letter-spacing:0.800px;color:#5e5e5e;">0-1.2</div><div class="t " style="left:493.81px;top:842.57px;font-size:13.8px;letter-spacing:0.450px;color:#5e5e5e;">3—22</div><div class="t " style="left:596.40px;top:842.57px;font-size:13.8px;letter-spacing:0.450px;color:#5e5e5e;">80</div>
<div class="t " style="left:31.33px;top:871.94px;font-size:13.8px;letter-spacing:0.450px;color:#5e5e5e;">CLZ100</div><div class="t " style="left:133.20px;top:871.94px;font-size:13.8px;letter-spacing:0.450px;color:#5e5e5e;">3.65</div><div class="t " style="left:211.49px;top:871.94px;font-size:13.8px;letter-spacing:0.450px;color:#5e5e5e;">10—500</div><div class="t " style="left:311.01px;top:871.94px;font-size:13.8px;letter-spacing:0.450px;color:#5e5e5e;">0—40</div><div class="t " style="left:404.17px;top:871.94px;font-size:13.8px;letter-spacing:0.800px;color:#5e5e5e;">0-1.2</div><div class="t " style="left:493.81px;top:871.94px;font-size:13.8px;letter-spacing:0.450px;color:#5e5e5e;">4—30</div><div class="t " style="left:592.34px;top:871.94px;font-size:13.8px;letter-spacing:0.450px;color:#5e5e5e;">100</div>
<div class="t " style="left:31.33px;top:901.32px;font-size:13.8px;letter-spacing:0.450px;color:#5e5e5e;">CLZ125</div><div class="t " style="left:137.26px;top:901.32px;font-size:13.8px;letter-spacing:0.450px;color:#5e5e5e;">5.2</div><div class="t " style="left:211.49px;top:901.32px;font-size:13.8px;letter-spacing:0.450px;color:#5e5e5e;">10—500</div><div class="t " style="left:311.01px;top:901.32px;font-size:13.8px;letter-spacing:0.450px;color:#5e5e5e;">0—60</div><div class="t " style="left:404.17px;top:901.32px;font-size:13.8px;letter-spacing:0.800px;color:#5e5e5e;">0-1.2</div><div class="t " style="left:487.61px;top:901.32px;font-size:13.8px;letter-spacing:0.450px;color:#5e5e5e;">5.5—45</div><div class="t " style="left:592.34px;top:901.32px;font-size:13.8px;letter-spacing:0.450px;color:#5e5e5e;">125</div>
<div class="t " style="left:26.12px;top:930.69px;font-size:13.8px;letter-spacing:0.450px;color:#5e5e5e;">CLZ125D</div><div class="t " style="left:137.26px;top:930.69px;font-size:13.8px;letter-spacing:0.450px;color:#5e5e5e;">6.8</div><div class="t " style="left:211.49px;top:930.69px;font-size:13.8px;letter-spacing:0.450px;color:#5e5e5e;">10—500</div><div class="t " style="left:311.01px;top:930.69px;font-size:13.8px;letter-spacing:0.450px;color:#5e5e5e;">0—80</div><div class="t " style="left:404.17px;top:930.69px;font-size:13.8px;letter-spacing:0.800px;color:#5e5e5e;">0-1.2</div><div class="t " style="left:487.61px;top:930.69px;font-size:13.8px;letter-spacing:0.450px;color:#5e5e5e;">7.5—55</div><div class="t " style="left:592.34px;top:930.69px;font-size:13.8px;letter-spacing:0.450px;color:#5e5e5e;">125</div>
<div class="t " style="left:31.33px;top:960.07px;font-size:13.8px;letter-spacing:0.450px;color:#5e5e5e;">CLZ150</div><div class="t " style="left:137.26px;top:960.07px;font-size:13.8px;letter-spacing:0.450px;color:#5e5e5e;">9.8</div><div class="t " style="left:211.49px;top:960.07px;font-size:13.8px;letter-spacing:0.450px;color:#5e5e5e;">10—400</div><div class="t " style="left:306.95px;top:960.07px;font-size:13.8px;letter-spacing:0.450px;color:#5e5e5e;">0—120</div><div class="t " style="left:404.17px;top:960.07px;font-size:13.8px;letter-spacing:0.800px;color:#5e5e5e;">0-1.2</div><div class="t " style="left:490.26px;top:960.07px;font-size:13.8px;letter-spacing:0.450px;color:#5e5e5e;">11—90</div><div class="t " style="left:592.34px;top:960.07px;font-size:13.8px;letter-spacing:0.450px;color:#5e5e5e;">150</div>
<div class="t " style="left:26.12px;top:989.44px;font-size:13.8px;letter-spacing:0.450px;color:#5e5e5e;">CLZ150D</div><div class="t " style="left:133.20px;top:989.44px;font-size:13.8px;letter-spacing:0.450px;color:#5e5e5e;">12.8</div><div class="t " style="left:211.49px;top:989.44px;font-size:13.8px;letter-spacing:0.450px;color:#5e5e5e;">10—400</div><div class="t " style="left:306.95px;top:989.44px;font-size:13.8px;letter-spacing:0.450px;color:#5e5e5e;">0—150</div><div class="t " style="left:404.17px;top:989.44px;font-size:13.8px;letter-spacing:0.800px;color:#5e5e5e;">0-1.2</div><div class="t " style="left:485.69px;top:989.44px;font-size:13.8px;letter-spacing:0.450px;color:#5e5e5e;">15—160</div><div class="t " style="left:592.34px;top:989.44px;font-size:13.8px;letter-spacing:0.450px;color:#5e5e5e;">150</div>
<div class="t " style="left:31.33px;top:1018.82px;font-size:13.8px;letter-spacing:0.450px;color:#5e5e5e;">CLZ200</div><div class="t " style="left:139.40px;top:1018.82px;font-size:13.8px;letter-spacing:0.450px;color:#5e5e5e;">16</div><div class="t " style="left:211.49px;top:1018.82px;font-size:13.8px;letter-spacing:0.450px;color:#5e5e5e;">10—300</div><div class="t " style="left:306.95px;top:1018.82px;font-size:13.8px;letter-spacing:0.450px;color:#5e5e5e;">0—200</div><div class="t " style="left:404.17px;top:1018.82px;font-size:13.8px;letter-spacing:0.800px;color:#5e5e5e;">0-1.2</div><div class="t " style="left:479.48px;top:1018.82px;font-size:13.8px;letter-spacing:0.450px;color:#5e5e5e;">18.5—185</div><div class="t " style="left:592.34px;top:1018.82px;font-size:13.8px;letter-spacing:0.450px;color:#5e5e5e;">200</div>
<div class="t " style="left:31.33px;top:1048.19px;font-size:13.8px;letter-spacing:0.450px;color:#5e5e5e;">CLZ250</div><div class="t " style="left:133.20px;top:1048.19px;font-size:13.8px;letter-spacing:0.450px;color:#5e5e5e;">32.6</div><div class="t " style="left:211.49px;top:1048.19px;font-size:13.8px;letter-spacing:0.450px;color:#5e5e5e;">10—250</div><div class="t " style="left:306.95px;top:1048.19px;font-size:13.8px;letter-spacing:0.450px;color:#5e5e5e;">0—300</div><div class="t " style="left:404.17px;top:1048.19px;font-size:13.8px;letter-spacing:0.800px;color:#5e5e5e;">0-1.2</div><div class="t " style="left:485.69px;top:1048.19px;font-size:13.8px;letter-spacing:0.450px;color:#5e5e5e;">45—160</div><div class="t " style="left:592.34px;top:1048.19px;font-size:13.8px;letter-spacing:0.450px;color:#5e5e5e;">250</div>
<div class="t " style="left:31.33px;top:1077.57px;font-size:13.8px;letter-spacing:0.450px;color:#5e5e5e;">CLZ300</div><div class="t " style="left:133.20px;top:1077.57px;font-size:13.8px;letter-spacing:0.450px;color:#5e5e5e;">50.4</div><div class="t " style="left:211.49px;top:1077.57px;font-size:13.8px;letter-spacing:0.450px;color:#5e5e5e;">10—250</div><div class="t " style="left:306.95px;top:1077.57px;font-size:13.8px;letter-spacing:0.450px;color:#5e5e5e;">0—400</div><div class="t " style="left:404.17px;top:1077.57px;font-size:13.8px;letter-spacing:0.800px;color:#5e5e5e;">0-1.2</div><div class="t " style="left:485.69px;top:1077.57px;font-size:13.8px;letter-spacing:0.450px;color:#5e5e5e;">55—200</div><div class="t " style="left:592.34px;top:1077.57px;font-size:13.8px;letter-spacing:0.450px;color:#5e5e5e;">300</div>
<div class="t " style="left:662.55px;top:871.52px;font-size:13.8px;letter-spacing:0.450px;color:#5e5e5e;">1,500,000</div>
<div class="t " style="left:34.25px;top:630.68px;font-size:14.2px;letter-spacing:0.870px;color:#fff;font-weight:bold;">Model</div><div class="t " style="left:102.75px;top:620.48px;font-size:14.2px;letter-spacing:-0.531px;color:#fff;font-weight:bold;">Displacement</div><div class="t " style="left:132.00px;top:640.48px;font-size:14.2px;letter-spacing:0.099px;color:#fff;font-weight:bold;">(L/r)</div><div class="t " style="left:214.60px;top:619.28px;font-size:14.2px;letter-spacing:0.746px;color:#fff;font-weight:bold;">Speed</div><div class="t " style="left:212.95px;top:639.78px;font-size:14.2px;letter-spacing:1.254px;color:#fff;font-weight:bold;">(r/min)</div><div class="t " style="left:296.80px;top:619.28px;font-size:14.2px;letter-spacing:0.744px;color:#fff;font-weight:bold;">Capacity</div><div class="t " style="left:304.70px;top:639.78px;font-size:14.2px;letter-spacing:1.280px;color:#fff;font-weight:bold;">(m3/h)</div><div class="t " style="left:382.70px;top:614.82px;font-size:13.8px;letter-spacing:0.859px;color:#fff;font-weight:bold;">Discharge</div><div class="t " style="left:388.55px;top:627.12px;font-size:13.8px;letter-spacing:0.746px;color:#fff;font-weight:bold;">Pressure</div><div class="t " style="left:394.90px;top:638.92px;font-size:13.8px;letter-spacing:2.102px;color:#fff;font-weight:bold;">(Mpa)</div><div class="t " style="left:490.10px;top:618.78px;font-size:14.2px;letter-spacing:0.696px;color:#fff;font-weight:bold;">Power</div><div class="t " style="left:495.45px;top:639.18px;font-size:14.2px;letter-spacing:0.195px;color:#fff;font-weight:bold;">(KW)</div><div class="t " style="left:570.55px;top:614.92px;font-size:13.8px;letter-spacing:1.020px;color:#fff;font-weight:bold;">Inlet and</div><div class="t " style="left:564.65px;top:627.02px;font-size:13.8px;letter-spacing:0.739px;color:#fff;font-weight:bold;">Outlet Size</div><div class="t " style="left:584.00px;top:639.02px;font-size:13.8px;letter-spacing:1.756px;color:#fff;font-weight:bold;">(mm)</div><div class="t " style="left:651.50px;top:618.78px;font-size:14.2px;letter-spacing:-0.970px;color:#fff;font-weight:bold;">Max. Viscosity</div><div class="t " style="left:684.00px;top:639.18px;font-size:14.2px;letter-spacing:-1.210px;color:#fff;font-weight:bold;">(cp)</div>
<div class="t " style="left:9.40px;top:1159.33px;font-size:17.8px;letter-spacing:1.455px;color:#1aa5b4;font-weight:bold;">Performance Curve</div>
<svg width="818" height="405" viewBox="0 1195 818 405" style="position:absolute;left:0;top:1195px;">
<line x1="110.2" y1="1250" x2="110.2" y2="1569.6" stroke="#505050" stroke-width="1.3"/>
<polygon points="110.2,1229.8 105.3,1252.6 115.10000000000001,1252.6" fill="#111"/>
<line x1="102.7" y1="1292.6" x2="110.2" y2="1292.6" stroke="#505050" stroke-width="1.3"/>
<text x="93.3" y="1296.3" font-size="10.8" text-anchor="middle" fill="#2a2a2a" textLength="13.6" lengthAdjust="spacingAndGlyphs" font-weight="bold">100</text>
<line x1="102.7" y1="1320.1" x2="110.2" y2="1320.1" stroke="#505050" stroke-width="1.3"/>
<text x="93.3" y="1323.8" font-size="10.8" text-anchor="middle" fill="#2a2a2a" textLength="9.1" lengthAdjust="spacingAndGlyphs" font-weight="bold">90</text>
<line x1="102.7" y1="1347.9" x2="110.2" y2="1347.9" stroke="#505050" stroke-width="1.3"/>
<text x="93.3" y="1351.6000000000001" font-size="10.8" text-anchor="middle" fill="#2a2a2a" textLength="9.1" lengthAdjust="spacingAndGlyphs" font-weight="bold">80</text>
<line x1="102.7" y1="1375.9" x2="110.2" y2="1375.9" stroke="#505050" stroke-width="1.3"/>
<text x="93.3" y="1379.6000000000001" font-size="10.8" text-anchor="middle" fill="#2a2a2a" textLength="9.1" lengthAdjust="spacingAndGlyphs" font-weight="bold">70</text>
<line x1="102.7" y1="1403.6" x2="110.2" y2="1403.6" stroke="#505050" stroke-width="1.3"/>
<text x="93.3" y="1407.3" font-size="10.8" text-anchor="middle" fill="#2a2a2a" textLength="9.1" lengthAdjust="spacingAndGlyphs" font-weight="bold">60</text>
<line x1="102.7" y1="1431.4" x2="110.2" y2="1431.4" stroke="#505050" stroke-width="1.3"/>
<text x="93.3" y="1435.1000000000001" font-size="10.8" text-anchor="middle" fill="#2a2a2a" textLength="9.1" lengthAdjust="spacingAndGlyphs" font-weight="bold">50</text>
<line x1="102.7" y1="1459.0" x2="110.2" y2="1459.0" stroke="#505050" stroke-width="1.3"/>
<text x="93.3" y="1462.7" font-size="10.8" text-anchor="middle" fill="#2a2a2a" textLength="9.1" lengthAdjust="spacingAndGlyphs" font-weight="bold">40</text>
<line x1="102.7" y1="1486.8" x2="110.2" y2="1486.8" stroke="#505050" stroke-width="1.3"/>
<text x="93.3" y="1490.5" font-size="10.8" text-anchor="middle" fill="#2a2a2a" textLength="9.1" lengthAdjust="spacingAndGlyphs" font-weight="bold">30</text>
<line x1="102.7" y1="1514.3" x2="110.2" y2="1514.3" stroke="#505050" stroke-width="1.3"/>
<text x="93.3" y="1518.0" font-size="10.8" text-anchor="middle" fill="#2a2a2a" textLength="9.1" lengthAdjust="spacingAndGlyphs" font-weight="bold">20</text>
<line x1="102.7" y1="1542.1" x2="110.2" y2="1542.1" stroke="#505050" stroke-width="1.3"/>
<text x="93.3" y="1545.8" font-size="10.8" text-anchor="middle" fill="#2a2a2a" textLength="9.1" lengthAdjust="spacingAndGlyphs" font-weight="bold">10</text>
<line x1="110.2" y1="1569.6" x2="657" y2="1569.6" stroke="#505050" stroke-width="1.3"/>
<polygon points="682,1569.6 655.5,1564.6999999999998 655.5,1574.5" fill="#111"/>
<text x="171.8" y="1580.6" font-size="10.8" text-anchor="middle" fill="#2a2a2a" textLength="4.7" lengthAdjust="spacingAndGlyphs" font-weight="bold">0</text>
<line x1="234.72" y1="1569.6" x2="234.72" y2="1563.1" stroke="#505050" stroke-width="1.3"/>
<text x="237.92" y="1580.6" font-size="10.8" text-anchor="middle" fill="#2a2a2a" textLength="13.7" lengthAdjust="spacingAndGlyphs" font-weight="bold">0. 2</text>
<line x1="297.44" y1="1569.6" x2="297.44" y2="1563.1" stroke="#505050" stroke-width="1.3"/>
<text x="300.64" y="1580.6" font-size="10.8" text-anchor="middle" fill="#2a2a2a" textLength="13.7" lengthAdjust="spacingAndGlyphs" font-weight="bold">0. 4</text>
<line x1="360.15999999999997" y1="1569.6" x2="360.15999999999997" y2="1563.1" stroke="#505050" stroke-width="1.3"/>
<text x="363.35999999999996" y="1580.6" font-size="10.8" text-anchor="middle" fill="#2a2a2a" textLength="13.7" lengthAdjust="spacingAndGlyphs" font-weight="bold">0. 6</text>
<line x1="422.88" y1="1569.6" x2="422.88" y2="1563.1" stroke="#505050" stroke-width="1.3"/>
<text x="426.08" y="1580.6" font-size="10.8" text-anchor="middle" fill="#2a2a2a" textLength="13.7" lengthAdjust="spacingAndGlyphs" font-weight="bold">0. 8</text>
<line x1="485.6" y1="1569.6" x2="485.6" y2="1563.1" stroke="#505050" stroke-width="1.3"/>
<text x="488.8" y="1580.6" font-size="10.8" text-anchor="middle" fill="#2a2a2a" textLength="13.7" lengthAdjust="spacingAndGlyphs" font-weight="bold">1. 0</text>
<line x1="548.3199999999999" y1="1569.6" x2="548.3199999999999" y2="1563.1" stroke="#505050" stroke-width="1.3"/>
<text x="551.52" y="1580.6" font-size="10.8" text-anchor="middle" fill="#2a2a2a" textLength="13.7" lengthAdjust="spacingAndGlyphs" font-weight="bold">1. 2</text>
<line x1="611.04" y1="1569.6" x2="611.04" y2="1563.1" stroke="#505050" stroke-width="1.3"/>
<text x="614.24" y="1580.6" font-size="10.8" text-anchor="middle" fill="#2a2a2a" textLength="13.7" lengthAdjust="spacingAndGlyphs" font-weight="bold">1. 4</text>
<text x="688.7" y="1573.6" font-size="11" text-anchor="start" fill="#4a4a4a" textLength="116" lengthAdjust="spacingAndGlyphs">Pressure Differential(Mpa)</text>
<line x1="173.8" y1="1264.9" x2="173.8" y2="1347.9" stroke="#505050" stroke-width="1.3"/>
<line x1="173.8" y1="1264.9" x2="181.10000000000002" y2="1264.9" stroke="#505050" stroke-width="1.3"/>
<text x="166" y="1268.7" font-size="10.8" text-anchor="end" fill="#2a2a2a" textLength="14" lengthAdjust="spacingAndGlyphs" font-weight="bold">320</text>
<line x1="173.8" y1="1292.6" x2="181.10000000000002" y2="1292.6" stroke="#505050" stroke-width="1.3"/>
<text x="166" y="1296.3999999999999" font-size="10.8" text-anchor="end" fill="#2a2a2a" textLength="14" lengthAdjust="spacingAndGlyphs" font-weight="bold">310</text>
<line x1="173.8" y1="1320.1" x2="181.10000000000002" y2="1320.1" stroke="#505050" stroke-width="1.3"/>
<text x="166" y="1323.8999999999999" font-size="10.8" text-anchor="end" fill="#2a2a2a" textLength="14" lengthAdjust="spacingAndGlyphs" font-weight="bold">300</text>
<line x1="173.8" y1="1347.9" x2="181.10000000000002" y2="1347.9" stroke="#505050" stroke-width="1.3"/>
<text x="166" y="1351.7" font-size="10.8" text-anchor="end" fill="#2a2a2a" textLength="14" lengthAdjust="spacingAndGlyphs" font-weight="bold">290</text>
<text x="153.5" y="1251" font-size="10.6" text-anchor="start" fill="#606060" textLength="75" lengthAdjust="spacingAndGlyphs" font-weight="bold">Speed(r/min)</text>
<line x1="173.8" y1="1410" x2="173.8" y2="1569.6" stroke="#505050" stroke-width="1.3"/>
<polygon points="173.8,1389.2 168.9,1411.4 178.70000000000002,1411.4" fill="#111"/>
<line x1="173.8" y1="1431.4" x2="181.10000000000002" y2="1431.4" stroke="#505050" stroke-width="1.3"/>
<text x="168.3" y="1435.2" font-size="10.8" text-anchor="end" fill="#2a2a2a" textLength="14.6" lengthAdjust="spacingAndGlyphs" font-weight="bold">7. 0</text>
<line x1="173.8" y1="1459.0" x2="181.10000000000002" y2="1459.0" stroke="#505050" stroke-width="1.3"/>
<text x="168.3" y="1462.8" font-size="10.8" text-anchor="end" fill="#2a2a2a" textLength="14.6" lengthAdjust="spacingAndGlyphs" font-weight="bold">6. 0</text>
<line x1="173.8" y1="1486.8" x2="181.10000000000002" y2="1486.8" stroke="#505050" stroke-width="1.3"/>
<text x="168.3" y="1490.6" font-size="10.8" text-anchor="end" fill="#2a2a2a" textLength="14.6" lengthAdjust="spacingAndGlyphs" font-weight="bold">5. 0</text>
<line x1="173.8" y1="1514.3" x2="181.10000000000002" y2="1514.3" stroke="#505050" stroke-width="1.3"/>
<text x="168.3" y="1518.1" font-size="10.8" text-anchor="end" fill="#2a2a2a" textLength="14.6" lengthAdjust="spacingAndGlyphs" font-weight="bold">4. 0</text>
<line x1="173.8" y1="1542.1" x2="181.10000000000002" y2="1542.1" stroke="#505050" stroke-width="1.3"/>
<text x="168.3" y="1545.8999999999999" font-size="10.8" text-anchor="end" fill="#2a2a2a" textLength="14.6" lengthAdjust="spacingAndGlyphs" font-weight="bold">3. 0</text>
<text x="152.8" y="1376.4" font-size="10.6" text-anchor="start" fill="#606060" textLength="60" lengthAdjust="spacingAndGlyphs" font-weight="bold">Power(kw)</text>
<line x1="71" y1="1347.9" x2="71" y2="1431.4" stroke="#505050" stroke-width="1.3"/>
<line x1="62.4" y1="1347.9" x2="71" y2="1347.9" stroke="#505050" stroke-width="1.3"/>
<text x="54.5" y="1351.7" font-size="10.8" text-anchor="end" fill="#2a2a2a" textLength="8.6" lengthAdjust="spacingAndGlyphs" font-weight="bold">13</text>
<line x1="62.4" y1="1375.9" x2="71" y2="1375.9" stroke="#505050" stroke-width="1.3"/>
<text x="54.5" y="1379.7" font-size="10.8" text-anchor="end" fill="#2a2a2a" textLength="8.6" lengthAdjust="spacingAndGlyphs" font-weight="bold">12</text>
<line x1="62.4" y1="1403.6" x2="71" y2="1403.6" stroke="#505050" stroke-width="1.3"/>
<text x="54.5" y="1407.3999999999999" font-size="10.8" text-anchor="end" fill="#2a2a2a" textLength="8.6" lengthAdjust="spacingAndGlyphs" font-weight="bold">11</text>
<line x1="62.4" y1="1431.4" x2="71" y2="1431.4" stroke="#505050" stroke-width="1.3"/>
<text x="54.5" y="1435.2" font-size="10.8" text-anchor="end" fill="#2a2a2a" textLength="8.6" lengthAdjust="spacingAndGlyphs" font-weight="bold">10</text>
<text x="21.5" y="1331.8" font-size="11" text-anchor="start" fill="#777" textLength="67.7" lengthAdjust="spacingAndGlyphs">Flow Rate(m³/h)</text>
<text x="71.4" y="1222.8" font-size="10.6" text-anchor="start" fill="#606060" textLength="73" lengthAdjust="spacingAndGlyphs" font-weight="bold">Efficiency(%)</text>
<path d="M173.8 1276 L420 1290.9 L611 1301.2" fill="none" stroke="#555" stroke-width="1.15" stroke-linecap="round"/>
<path d="M173.8 1385.4 L262 1385.3 C285 1385.3 300 1385.8 320 1386.9 C350 1388.6 380 1390.6 420 1393.5 L515 1401.6 L611 1409.2" fill="none" stroke="#555" stroke-width="1.15" stroke-linecap="round"/>
<path d="M173.8 1452.6 L236.3 1420 L300 1390.6 C318 1382.5 334 1377 350.7 1371.9 C368 1367.2 384 1364.6 401.6 1363.4 C430 1361.2 455 1360.2 479.5 1360.1 C505 1360.1 525 1360.9 543 1362.3 C565 1364 590 1366.8 608 1369.6" fill="none" stroke="#555" stroke-width="1.15" stroke-linecap="round"/>
<path d="M173.8 1542.1 C195 1540 215 1537.6 234.7 1535.4 C256 1533.3 277 1531.5 297.6 1529.7 C318 1527.7 340 1525.6 360.3 1523.3 C380 1521 400 1518 420 1515.4 C445 1511.8 465 1508.4 485.8 1505.3 C505 1502.3 527 1499.2 548.2 1497.7 C570 1496.4 590 1496 610.5 1495.5" fill="none" stroke="#555" stroke-width="1.15" stroke-linecap="round"/>
<text x="417.5" y="1276.6" font-size="10.6" text-anchor="start" fill="#606060" textLength="34" lengthAdjust="spacingAndGlyphs" font-weight="bold">Speed</text>
<line x1="435" y1="1284.3" x2="426" y2="1290.4" stroke="#666" stroke-width="0.7"/>
<text x="371.4" y="1349.8" font-size="10.6" text-anchor="start" fill="#606060" textLength="53.5" lengthAdjust="spacingAndGlyphs" font-weight="bold">Efficiency</text>
<line x1="395.2" y1="1356" x2="401.6" y2="1363.4" stroke="#666" stroke-width="0.7"/>
<text x="504.3" y="1391" font-size="10.6" text-anchor="start" fill="#606060" textLength="53.7" lengthAdjust="spacingAndGlyphs" font-weight="bold">Flow Rate</text>
<line x1="522.4" y1="1396.4" x2="515" y2="1401.8" stroke="#666" stroke-width="0.7"/>
<text x="483.3" y="1489" font-size="10.6" text-anchor="start" fill="#606060" textLength="35.2" lengthAdjust="spacingAndGlyphs" font-weight="bold">Power</text>
<line x1="502.2" y1="1495.6" x2="498" y2="1502.8" stroke="#666" stroke-width="0.7"/>
<text x="640" y="1234" font-size="10" text-anchor="start" fill="#111" textLength="83" lengthAdjust="spacingAndGlyphs" font-weight="bold">本产品CLZ50F1-10</text>
<text x="640" y="1254" font-size="10" text-anchor="start" fill="#111" textLength="85.5" lengthAdjust="spacingAndGlyphs" font-weight="bold">测试介质粘度800cp</text>
</svg>
</div></body></html>
